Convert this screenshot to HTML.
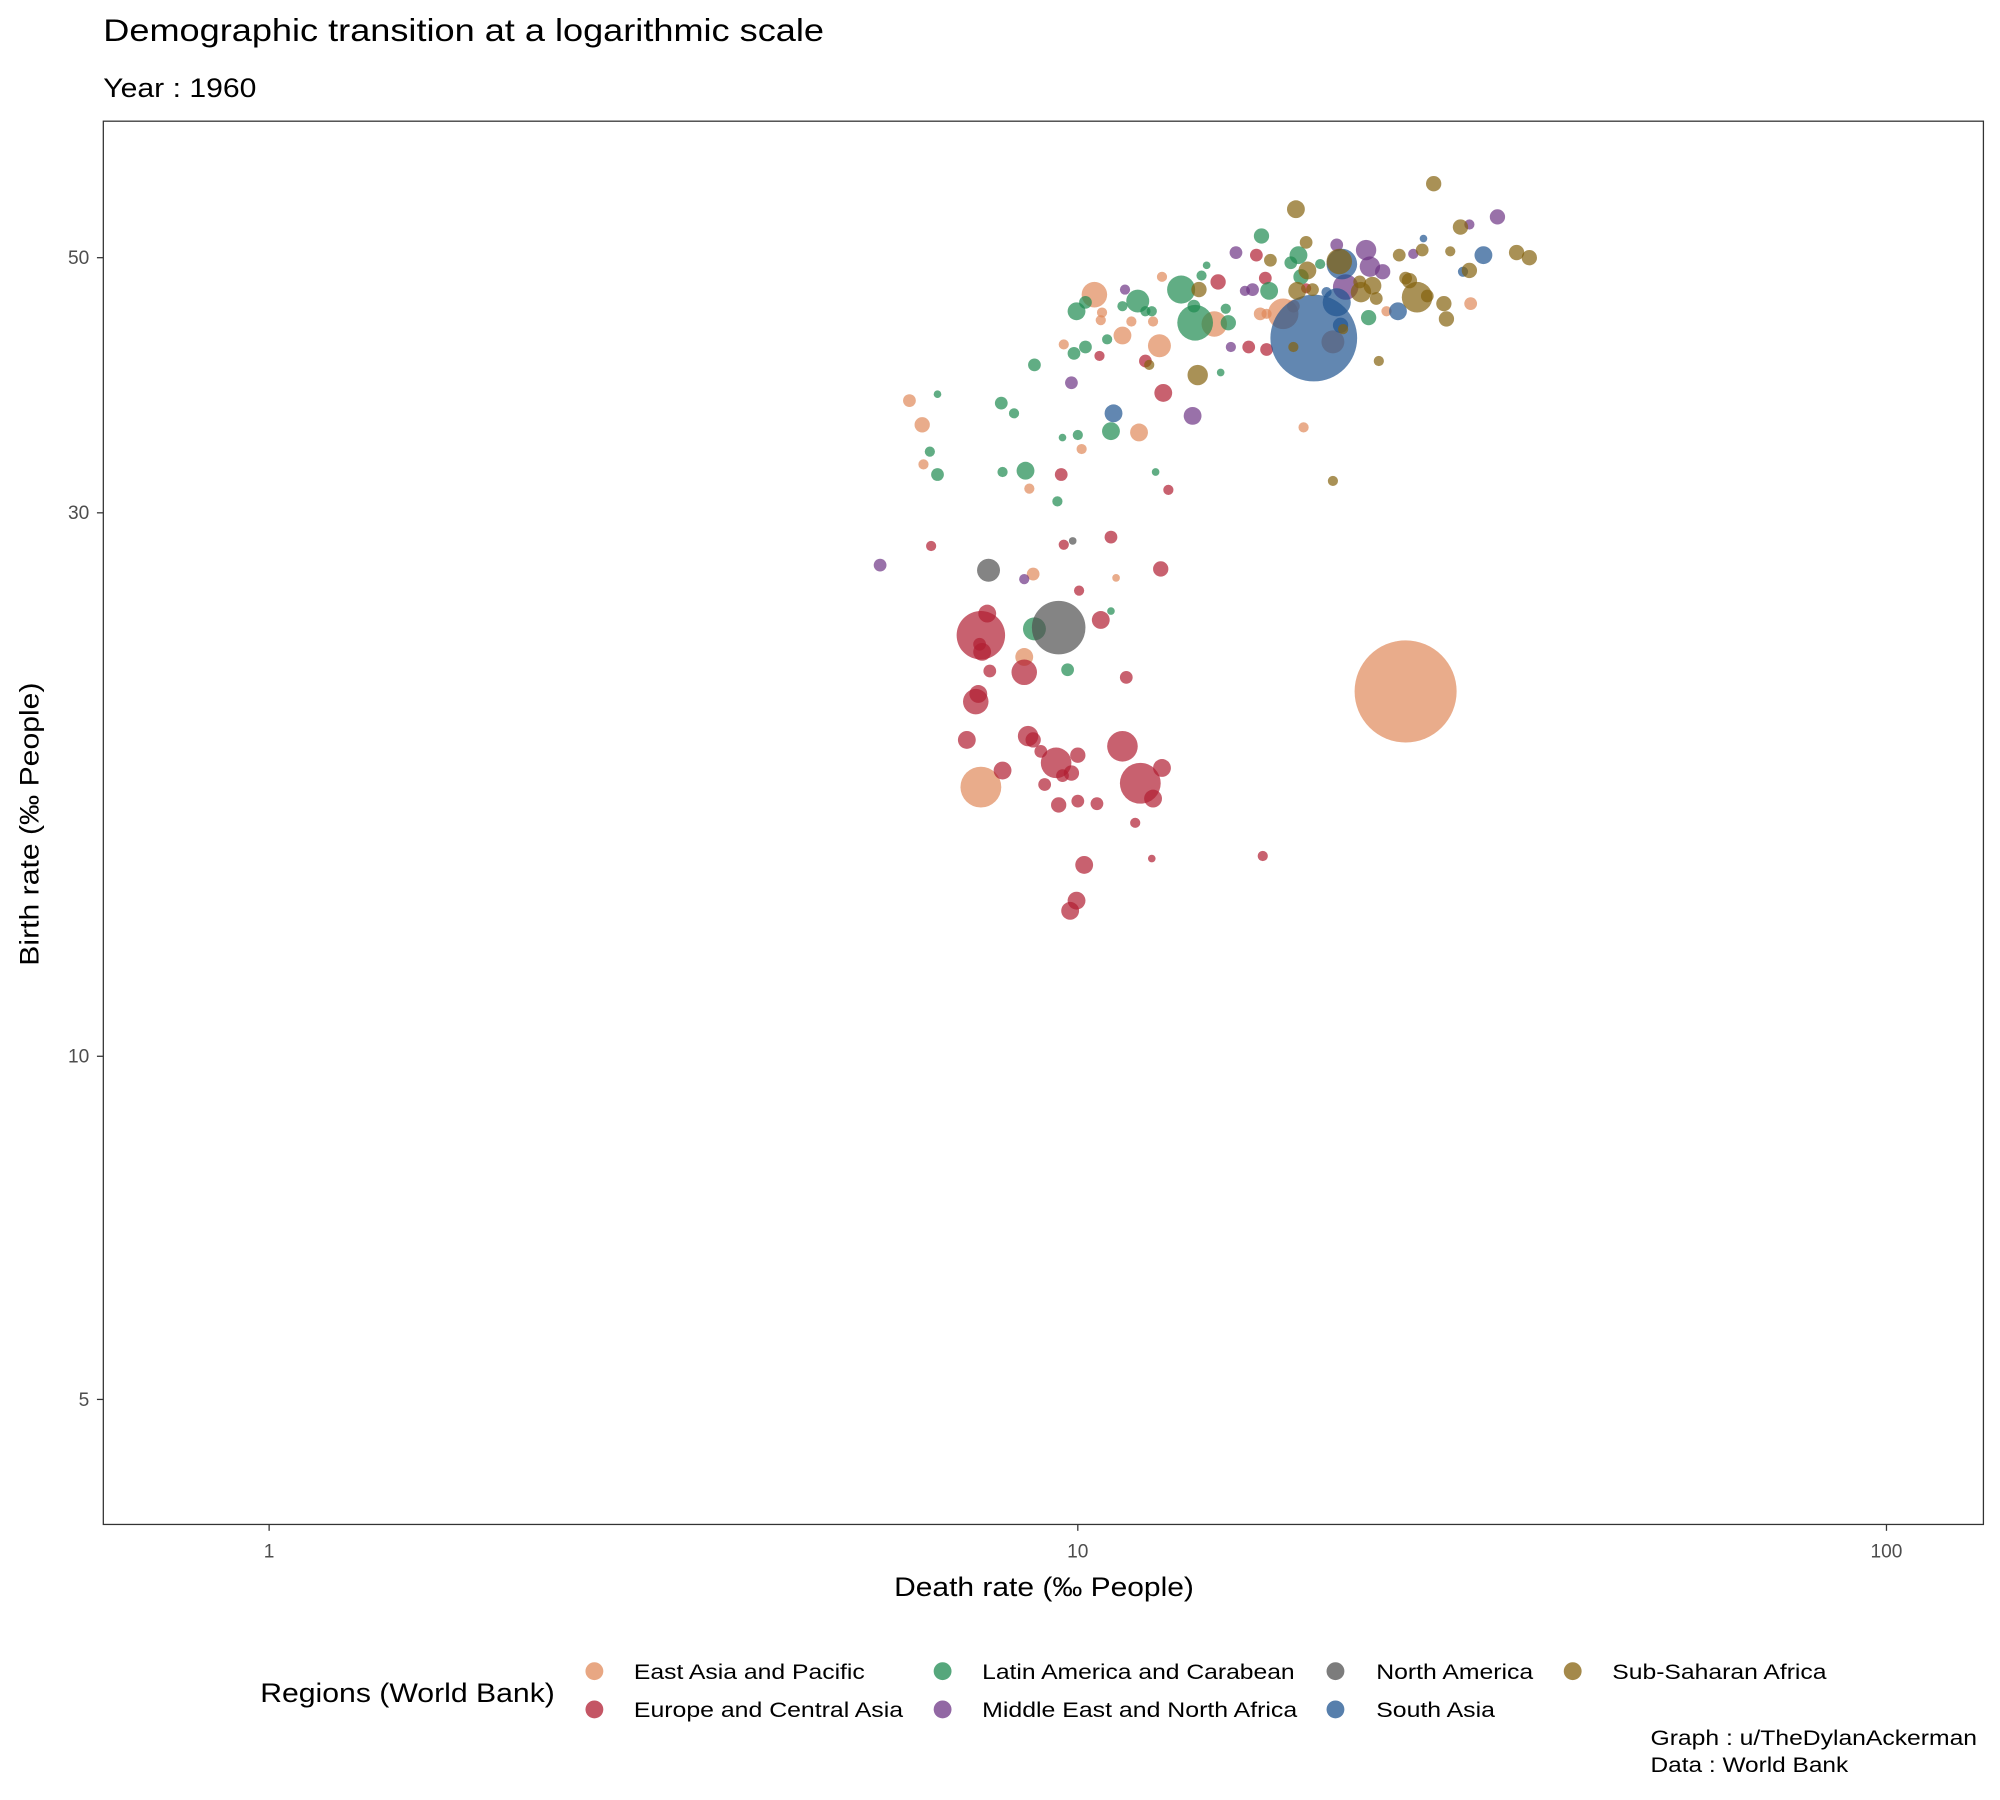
<!DOCTYPE html>
<html><head><meta charset="utf-8"><style>html,body{margin:0;padding:0;background:#fff}svg{display:block}text{font-family:"Liberation Sans",sans-serif}</style></head>
<body>
<svg width="2000" height="1800" viewBox="0 0 1568 1411" preserveAspectRatio="none" xmlns="http://www.w3.org/2000/svg">
<rect width="1568" height="1411" fill="#fff"/>
<text x="81" y="32" font-size="25" fill="#000" textLength="565" lengthAdjust="spacingAndGlyphs">Demographic transition at a logarithmic scale</text>
<text x="81" y="76" font-size="21" fill="#000" textLength="120" lengthAdjust="spacingAndGlyphs">Year : 1960</text>
<g font-size="15" fill="#4d4d4d" text-anchor="end">
<text x="70" y="207">50</text><text x="70" y="407">30</text><text x="70" y="833">10</text><text x="70" y="1102">5</text></g>
<g stroke="#333" stroke-width="1">
<line x1="76" y1="202" x2="81" y2="202"/><line x1="76" y1="402" x2="81" y2="402"/><line x1="76" y1="828" x2="81" y2="828"/><line x1="76" y1="1097" x2="81" y2="1097"/>
<line x1="211" y1="1195" x2="211" y2="1200"/><line x1="845" y1="1195" x2="845" y2="1200"/><line x1="1479" y1="1195" x2="1479" y2="1200"/></g>
<g font-size="15" fill="#4d4d4d" text-anchor="middle"><text x="211" y="1221">1</text><text x="845" y="1221">10</text><text x="1479" y="1221">100</text></g>
<text x="701" y="1251" font-size="21" textLength="235" lengthAdjust="spacingAndGlyphs">Death rate (‰ People)</text>
<text transform="translate(30,757) rotate(-90)" font-size="21" textLength="222" lengthAdjust="spacingAndGlyphs">Birth rate (‰ People)</text>
<g id="pts" fill-opacity="0.7"></g>
<rect x="81" y="95" width="1474" height="1100" fill="none" stroke="#333" stroke-width="1"/>
<text x="204" y="1334" font-size="21" textLength="231" lengthAdjust="spacingAndGlyphs">Regions (World Bank)</text>
<g font-size="17" fill="#000" fill-opacity="1">
<circle cx="466" cy="1310" r="7" fill="#E0895A" fill-opacity="0.75"/><text x="497" y="1316" textLength="181" lengthAdjust="spacingAndGlyphs">East Asia and Pacific</text>
<circle cx="466" cy="1340" r="7" fill="#B01E32" fill-opacity="0.75"/><text x="497" y="1346" textLength="211" lengthAdjust="spacingAndGlyphs">Europe and Central Asia</text>
<circle cx="739" cy="1310" r="7" fill="#1E8A50" fill-opacity="0.75"/><text x="770" y="1316" textLength="245" lengthAdjust="spacingAndGlyphs">Latin America and Carabean</text>
<circle cx="739" cy="1340" r="7" fill="#6E3585" fill-opacity="0.75"/><text x="770" y="1346" textLength="247" lengthAdjust="spacingAndGlyphs">Middle East and North Africa</text>
<circle cx="1047" cy="1310" r="7" fill="#505050" fill-opacity="0.75"/><text x="1079" y="1316" textLength="123" lengthAdjust="spacingAndGlyphs">North America</text>
<circle cx="1047" cy="1340" r="7" fill="#1F5490" fill-opacity="0.75"/><text x="1079" y="1346" textLength="93" lengthAdjust="spacingAndGlyphs">South Asia</text>
<circle cx="1233" cy="1310" r="7" fill="#85620E" fill-opacity="0.75"/><text x="1264" y="1316" textLength="168" lengthAdjust="spacingAndGlyphs">Sub-Saharan Africa</text>
</g>
<g font-size="17"><text x="1294" y="1368" textLength="256" lengthAdjust="spacingAndGlyphs">Graph : u/TheDylanAckerman</text><text x="1294" y="1389" textLength="155" lengthAdjust="spacingAndGlyphs">Data : World Bank</text></g>
</svg>
<script>
var D={
"#E0895A":[[713,314,5],[723,333,6],[724,364,4],[807,383,4],[810,450,5],[803,515,7],[848,352,4],[834,270,4],[864,245,4],[863,251,4],[880,263,7],[887,252,4],[893,339,7],[875,453,3],[904,252,4],[911,217,4],[952,254,10],[1022,335,4],[1045,268,9],[1087,244,4],[1153,238,5],[988,246,5],[993,246,4],[1014,240,5],[858,231,10],[909,271,9],[1006,246,12],[769,617,16],[1102,542,40]],
"#B01E32":[[730,428,4],[774,481,7],[770,511,7],[768,505,5],[776,526,5],[767,544,7],[765,550,10],[758,580,7],[786,604,7],[803,527,10],[806,577,8],[810,580,6],[816,589,5],[819,615,5],[830,631,6],[833,608,5],[840,606,6],[845,628,5],[845,592,6],[860,630,5],[850,678,7],[844,706,7],[839,714,7],[834,427,4],[832,372,5],[846,463,4],[863,486,7],[871,421,5],[883,531,5],[890,645,4],[903,673,3],[904,626,7],[911,602,7],[910,446,6],[916,384,4],[912,308,7],[898,283,5],[955,221,6],[979,272,5],[993,274,5],[985,200,5],[992,218,5],[990,671,4],[862,279,4],[828,598,12],[880,585,12],[894,614,16],[769,498,19],[1024,226,4]],
"#1E8A50":[[735,309,3],[729,354,4],[735,372,5],[785,316,5],[795,324,4],[786,370,4],[804,369,7],[811,493,9],[829,393,4],[837,525,5],[833,343,3],[845,341,4],[844,244,7],[851,237,5],[842,277,5],[851,272,5],[868,266,4],[871,338,7],[871,479,3],[880,240,4],[892,236,9],[898,244,4],[903,244,4],[906,370,3],[936,240,5],[942,216,4],[946,208,3],[961,242,4],[963,253,6],[957,292,3],[989,185,6],[995,228,7],[1012,206,5],[1018,200,7],[1020,217,6],[1035,207,4],[1073,249,6],[937,253,14],[926,227,11],[811,286,5]],
"#6E3585":[[690,443,5],[803,454,4],[840,300,5],[882,227,4],[935,326,7],[965,272,4],[969,198,5],[976,228,4],[982,227,5],[1048,192,5],[1071,196,8],[1074,209,8],[1084,213,6],[1108,199,4],[1152,176,4],[1174,170,6],[1055,225,10]],
"#505050":[[775,447,9],[841,424,3],[830,492,21]],
"#1F5490":[[873,324,7],[1116,187,3],[1147,213,4],[1163,200,7],[1096,244,7],[1052,207,12],[1048,237,11],[1051,255,6],[1030,265,34],[1040,229,4]],
"#85620E":[[1016,164,7],[1024,190,5],[940,227,6],[939,294,8],[996,204,5],[1025,212,7],[1017,228,7],[1029,227,5],[1066,221,5],[1067,229,8],[1076,224,7],[1081,283,4],[1045,377,4],[1053,258,4],[1079,234,5],[1097,200,5],[1105,220,6],[1115,196,5],[1119,232,5],[1124,144,6],[1132,238,6],[1134,250,6],[1137,197,4],[1145,178,6],[1152,212,6],[1189,198,6],[1199,202,6],[1111,233,12],[1050,205,10],[1102,218,5],[1014,272,4],[901,286,4]]};
var g=document.getElementById('pts'),ns="http://www.w3.org/2000/svg";
for(var c in D)D[c].forEach(function(p){var e=document.createElementNS(ns,'circle');e.setAttribute('cx',p[0]);e.setAttribute('cy',p[1]);e.setAttribute('r',p[2]);e.setAttribute('fill',c);g.appendChild(e);});
</script>
</body></html>
